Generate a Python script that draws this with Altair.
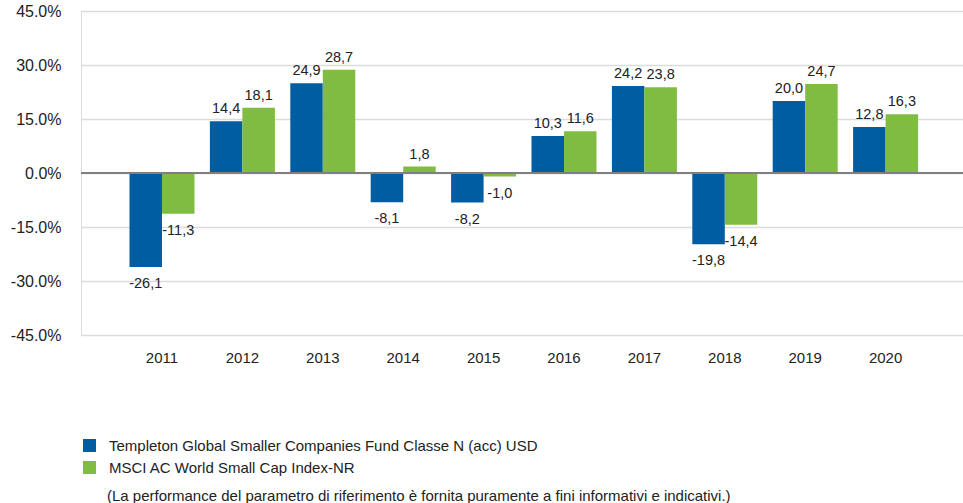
import altair as alt
import pandas as pd

years = ["2011", "2012", "2013", "2014", "2015", "2016", "2017", "2018", "2019", "2020"]
fund = [-26.1, 14.4, 24.9, -8.1, -8.2, 10.3, 24.2, -19.8, 20.0, 12.8]
index = [-11.3, 18.1, 28.7, 1.8, -1.0, 11.6, 23.8, -14.4, 24.7, 16.3]
series = [
    "Templeton Global Smaller Companies Fund Classe N (acc) USD",
    "MSCI AC World Small Cap Index-NR",
]
colors = ["#005DA2", "#80BC42"]
y_ticks = [-45, -30, -15, 0, 15, 30, 45]
note = "(La performance del parametro di riferimento è fornita puramente a fini informativi e indicativi.)"

FONT = "Liberation Sans, Arial, Helvetica, sans-serif"

rows = []
for i, yr in enumerate(years):
    for s, vals in zip(series, [fund, index]):
        v = vals[i]
        rows.append({"year": yr, "series": s, "value": v,
                     "label": f"{v:.1f}".replace(".", ",")})
df = pd.DataFrame(rows)

x_enc = alt.X("year:N", sort=years,
              scale=alt.Scale(paddingInner=0, paddingOuter=0.485, align=0.523),
              axis=alt.Axis(title=None, labelAngle=0, domain=False, ticks=False,
                            labelPadding=15, labelFontSize=15, labelFont=FONT,
                            labelColor="#222222"))
xo_enc = alt.XOffset("series:N", sort=series,
                     scale=alt.Scale(paddingInner=0, paddingOuter=0.237))
y_scale = alt.Scale(domain=[-45, 45], nice=False, zero=False)

bars = alt.Chart(df).mark_bar(size=32.5).encode(
    x=x_enc,
    xOffset=xo_enc,
    y=alt.Y("value:Q", scale=y_scale,
            axis=alt.Axis(title=None, values=y_ticks, domain=False, ticks=False,
                          labelExpr="replace(format(datum.value, '.1f'), '\u2212', '-') + '%'",
                          labelPadding=20, labelFontSize=16, labelFont=FONT,
                          labelColor="#222222", gridColor="#dcdcdc", gridWidth=1.5)),
    color=alt.Color("series:N", sort=series,
                    scale=alt.Scale(domain=series, range=colors),
                    legend=alt.Legend(title=None, orient="none", legendX=1, legendY=427,
                                      symbolType="square", symbolSize=169,
                                      symbolStrokeWidth=0, labelFontSize=15,
                                      labelFont=FONT, labelColor="#222222",
                                      labelOffset=12, labelLimit=800, rowPadding=6)),
)

pos_labels = alt.Chart(df).transform_filter("datum.value >= 0").mark_text(
    dy=-12, baseline="middle", fontSize=14.5, font=FONT, color="#222222"
).encode(x=alt.X("year:N", sort=years), xOffset=alt.XOffset("series:N", sort=series),
         y=alt.Y("value:Q"), text="label:N")

neg_labels = alt.Chart(df).transform_filter("datum.value < 0").mark_text(
    dy=17, baseline="middle", fontSize=14.5, font=FONT, color="#222222"
).encode(x=alt.X("year:N", sort=years), xOffset=alt.XOffset("series:N", sort=series),
         y=alt.Y("value:Q"), text="label:N")

zero = alt.Chart(pd.DataFrame({"v": [0]})).mark_rule(color="#7f7f7f", strokeWidth=2).encode(
    y=alt.Y("v:Q"))

footnote = alt.Chart(pd.DataFrame({"t": [note]})).mark_text(
    align="left", baseline="middle", fontSize=15, font=FONT, color="#222222"
).encode(x=alt.value(26), y=alt.value(485), text="t:N")

chart = alt.layer(bars, zero, pos_labels, neg_labels, footnote).properties(
    width=882, height=324,
    autosize=alt.AutoSizeParams(type="none"),
    padding={"left": 81, "top": 11, "right": 0, "bottom": 168},
).configure_view(stroke=None).configure(background="white")

chart.save("out.html", embed_options={"renderer": "svg", "actions": False})
